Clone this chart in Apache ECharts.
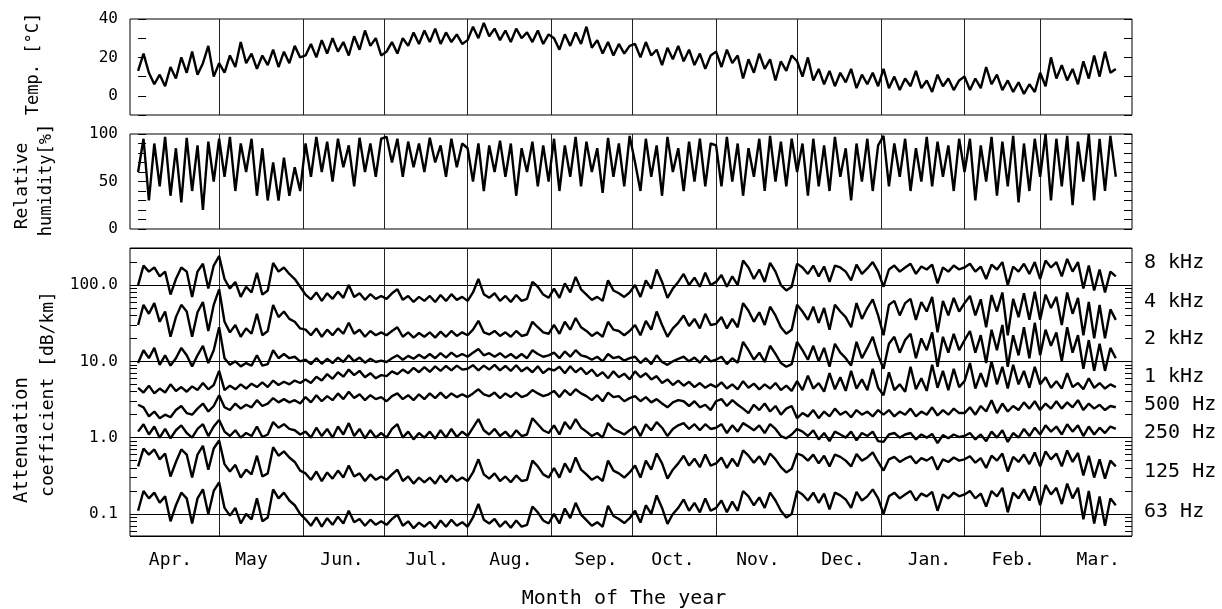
<!DOCTYPE html>
<html>
<head>
<meta charset="utf-8">
<script src="https://cdn.jsdelivr.net/npm/echarts@6/dist/echarts.min.js"></script>
<style>
html, body { margin: 0; padding: 0; background: #fff; }
#main { width: 1222px; height: 609px; }
</style>
</head>
<body>
<div id="main"></div>
<script>
// one reading every 2 days, day 0 = 1 Apr
const dayStep = 2;
const monthNames = ['Apr.', 'May', 'Jun.', 'Jul.', 'Aug.', 'Sep.', 'Oct.', 'Nov.', 'Dec.', 'Jan.', 'Feb.', 'Mar.'];
const monthStarts = [30, 61, 91, 122, 153, 183, 214, 244, 275, 306, 334];
const monthLabelDays = [12, 42, 75.5, 107, 138, 169.5, 198, 229.5, 261, 293, 324, 355.5];
const tempTicks = [0, 20, 40];
const humidTicks = [0, 50, 100];
const attenTicks = [0.1, 1, 10, 100];
const freqNames = ['8 kHz', '4 kHz', '2 kHz', '1 kHz', '500 Hz', '250 Hz', '125 Hz', '63 Hz'];

const temperature = [
  13, 22, 12, 6, 11, 5, 15, 9, 20, 12, 23, 11, 17, 26, 10,
  17, 12, 21, 15, 28, 17, 22, 14, 21, 16, 24, 15, 23, 17, 26, 20,
  21, 27, 20, 29, 22, 30, 23, 28, 21, 31, 24, 34, 26, 30, 21,
  23, 28, 22, 30, 26, 33, 27, 34, 28, 35, 27, 33, 28, 32, 27,
  29, 36, 30, 38, 31, 35, 29, 34, 28, 35, 30, 33, 28, 34, 27, 32,
  30, 24, 32, 26, 33, 27, 36, 25, 29, 22, 28, 21, 27, 22, 26,
  27, 20, 28, 21, 24, 16, 25, 19, 26, 18, 24, 16, 22, 14, 21,
  23, 15, 24, 17, 21, 9, 19, 12, 22, 14, 19, 8, 18, 13, 21,
  18, 10, 20, 8, 14, 6, 13, 5, 12, 7, 14, 4, 11, 6, 12, 5,
  14, 4, 10, 3, 9, 5, 13, 4, 8, 2, 11, 5, 9, 3, 8,
  10, 3, 9, 4, 15, 6, 11, 3, 8, 2, 7, 1, 6, 2,
  12, 5, 20, 9, 16, 8, 14, 6, 18, 9, 21, 10, 23, 12, 14
];
const humidity = [
  60, 95, 30, 90, 45, 97, 35, 85, 28, 96, 40, 88, 20, 92, 50,
  95, 55, 97, 40, 90, 60, 95, 35, 85, 30, 70, 30, 75, 35, 65, 40,
  90, 55, 97, 60, 92, 50, 95, 65, 88, 45, 96, 60, 90, 55, 95,
  97, 70, 95, 55, 92, 65, 90, 60, 96, 70, 88, 55, 95, 65, 90,
  85, 50, 90, 40, 88, 60, 93, 55, 90, 35, 85, 60, 92, 45, 88, 50,
  95, 40, 88, 55, 97, 45, 92, 60, 85, 38, 96, 55, 90, 45, 98,
  70, 40, 95, 55, 88, 35, 97, 60, 85, 40, 92, 50, 95, 45, 90,
  88, 45, 97, 50, 90, 35, 85, 55, 95, 40, 98, 50, 92, 45, 95,
  60, 90, 35, 95, 45, 88, 40, 97, 55, 85, 30, 90, 50, 95, 40, 88,
  98, 45, 90, 55, 95, 40, 85, 50, 97, 45, 92, 55, 88, 40, 95,
  60, 95, 30, 88, 50, 97, 35, 92, 45, 98, 28, 90, 40, 95,
  55, 100, 30, 95, 45, 98, 25, 92, 50, 100, 30, 95, 40, 98, 55
];

const att8k = [
  100, 180, 150, 170, 130, 150, 75, 120, 170, 150, 70, 150, 190, 90, 180,
  240, 120, 90, 110, 70, 95, 80, 145, 75, 85, 195, 150, 170, 140, 120, 95,
  75, 65, 80, 62, 78, 66, 82, 68, 100, 70, 78, 64, 76, 66, 72,
  66, 78, 88, 64, 72, 60, 70, 62, 72, 60, 74, 62, 76, 64, 70,
  62, 80, 120, 76, 68, 78, 62, 72, 60, 74, 62, 66, 110, 95, 75, 68,
  90, 68, 105, 80, 128, 88, 75, 64, 70, 62, 115, 85, 78, 70, 80,
  100, 70, 115, 90, 160, 110, 68, 90, 110, 140, 100, 125, 95, 145, 100,
  110, 135, 95, 130, 100, 210, 170, 120, 160, 110, 195, 150, 100, 85, 95,
  190, 170, 140, 180, 130, 175, 110, 180, 170, 150, 115, 185, 140, 165, 200, 150,
  95, 160, 180, 150, 170, 190, 140, 175, 160, 185, 105, 170, 150, 180, 160,
  170, 190, 150, 175, 120, 185, 160, 200, 100, 175, 150, 190, 140, 200,
  120, 210, 170, 200, 130, 220, 150, 200, 90, 180, 85, 160, 80, 150, 130
];
const att4k = [
  30, 55, 42, 58, 33, 45, 21, 38, 55, 45, 21, 44, 60, 25, 55,
  88, 33, 24, 30, 21, 27, 23, 42, 22, 25, 55, 38, 45, 36, 33, 27,
  26, 22, 27, 21, 26, 22, 27, 23, 32, 23, 26, 21, 25, 22, 24,
  22, 25, 28, 21, 24, 20.5, 23.5, 21, 24, 20.5, 24.5, 21, 25, 21.5, 24,
  22, 26, 34, 24, 22.5, 25, 21.5, 24, 21, 25, 21.5, 22.5, 33, 28, 24, 23,
  30, 23, 33, 26, 37, 28, 25, 21.5, 24, 21, 33, 26, 25, 22, 25,
  30, 22, 34, 26, 45, 30, 21, 27, 32, 40, 29, 36, 27, 42, 30,
  31, 38, 27, 36, 28, 58, 46, 33, 44, 30, 52, 40, 28, 23, 26,
  55, 45, 35, 52, 32, 50, 26, 55, 45, 38, 28, 58, 36, 50, 65, 40,
  22, 55, 62, 40, 58, 66, 35, 60, 45, 70, 24, 62, 40, 68, 45,
  58, 72, 40, 65, 28, 74, 45, 80, 22, 66, 38, 78, 35, 82,
  35, 75, 50, 70, 30, 80, 42, 68, 22, 60, 20, 55, 20, 48, 35
];
const att2k = [
  9.5, 14, 11, 15, 9, 12, 8.8, 11, 15, 12, 8.6, 12, 16, 9.5, 14,
  28, 11, 9, 10, 8.6, 9.5, 8.8, 12, 8.8, 9.2, 14, 11, 12.5, 11, 11.5, 10,
  10.5, 9.2, 11, 9.3, 10.8, 9.5, 11.2, 9.8, 12, 10, 11.2, 9.6, 10.8, 9.8, 10.2,
  9.8, 11, 12, 10.5, 11.8, 10.8, 12.2, 11, 12.5, 11, 12.8, 11.2, 13, 11.5, 12.5,
  11.5, 13, 14.5, 12, 12.8, 11.5, 12.8, 11.2, 12.5, 11, 12.5, 11, 14, 12.5, 11.5, 12,
  13, 11, 13.5, 11.5, 14, 12, 11.5, 10.5, 11.5, 10, 12.5, 11, 11.5, 10.2, 11,
  11.5, 9.5, 11, 9.2, 12, 9.8, 9, 10, 10.8, 11.5, 10, 11.2, 9.6, 11.8, 10,
  10.5, 11.5, 9.2, 11, 9.6, 18, 14, 10.5, 13, 9.8, 16, 12.5, 9.5, 8.5, 9.2,
  18, 14, 10.5, 16, 10, 15, 8.5, 17, 13, 11, 8.8, 18, 11, 15, 21, 12,
  8, 17, 21, 13, 19, 23, 11, 20, 14, 24, 8.5, 21, 13, 23, 14,
  19, 25, 13, 22, 9.5, 26, 14, 30, 8.5, 22, 12, 28, 11, 32,
  12, 26, 16, 24, 10, 28, 13, 22, 8, 19, 7.5, 17, 7.5, 15, 11
];
const att1k = [
  4.5, 3.9, 4.8, 3.8, 4.4, 3.9, 5.0, 4.1, 4.6, 4.0, 4.7, 4.2, 5.2, 4.3, 4.9,
  7.5, 4.2, 4.8, 4.3, 5.0, 4.4, 5.1, 4.6, 5.3, 4.6, 5.6, 4.9, 5.4, 5.0, 5.6, 5.2,
  5.8, 5.2, 6.3, 5.6, 6.8, 5.9, 7.2, 6.3, 7.8, 6.6, 7.5, 6.2, 7.0, 6.0, 6.6,
  6.4, 7.4, 6.8, 7.8, 7.0, 8.2, 7.2, 8.4, 7.3, 8.6, 7.5, 8.7, 7.6, 8.8, 7.8,
  8.0, 8.9, 7.6, 8.8, 7.8, 9.0, 7.6, 8.7, 7.5, 8.9, 7.4, 8.3, 7.2, 8.6, 7.0, 8.0,
  7.6, 8.5, 7.0, 8.6, 7.2, 8.2, 6.8, 7.8, 6.4, 7.2, 6.0, 7.4, 6.2, 6.9, 5.8,
  7.4, 6.2, 7.0, 5.8, 6.4, 5.2, 5.8, 4.9, 5.6, 4.8, 5.4, 4.6, 5.2, 4.5, 5.0,
  4.6, 5.3, 4.4, 5.0, 4.3, 5.5, 4.5, 5.1, 4.3, 5.0, 4.4, 5.2, 4.2, 4.8, 4.1,
  5.5, 4.2, 6.5, 4.4, 5.2, 4.0, 7.0, 4.3, 6.2, 4.1, 7.5, 4.4, 5.8, 4.2, 8.0, 4.5,
  3.6, 7.2, 4.2, 5.0, 4.0, 8.5, 4.3, 6.0, 4.1, 9.0, 4.5, 7.5, 4.2, 8.0, 4.6,
  5.5, 9.5, 4.4, 7.0, 4.6, 10.0, 5.0, 8.5, 4.4, 9.0, 5.0, 7.5, 4.5, 8.5,
  5.0, 6.2, 4.5, 5.5, 4.4, 7.0, 4.6, 5.2, 4.3, 6.0, 4.5, 5.2, 4.4, 5.0, 4.6
];
const att500 = [
  2.7, 2.5, 1.9, 2.2, 1.8, 2.0, 1.85, 2.3, 2.6, 2.1, 2.0, 2.4, 2.8, 2.2, 2.6,
  3.6, 2.5, 2.3, 2.8, 2.4, 2.7, 2.5, 3.1, 2.6, 2.8, 3.3, 2.9, 3.2, 2.9, 3.1, 2.8,
  3.4, 2.9, 3.6, 3.0, 3.5, 3.1, 3.8, 3.2, 4.0, 3.3, 3.7, 3.1, 3.6, 3.2, 3.4,
  3.0, 3.5, 3.8, 3.2, 3.6, 3.1, 3.7, 3.2, 3.8, 3.3, 3.9, 3.3, 3.8, 3.4, 3.7,
  3.4, 3.8, 4.3, 3.7, 3.5, 3.9, 3.3, 3.8, 3.4, 3.9, 3.4, 3.6, 4.2, 3.8, 3.5, 3.7,
  4.1, 3.4, 4.2, 3.6, 4.3, 3.8, 3.5, 3.1, 3.6, 3.0, 3.9, 3.4, 3.5, 3.0, 3.3,
  3.5, 3.0, 3.4, 2.9, 3.2, 2.8, 2.5, 2.9, 3.1, 3.0, 2.6, 3.0, 2.5, 2.7, 2.3,
  3.0, 3.2, 2.6, 3.1, 2.7, 2.4, 2.1, 2.7, 2.3, 2.8, 2.2, 2.6, 2.0, 2.4, 2.6,
  1.8, 2.1, 1.9, 2.3, 1.8, 2.2, 1.9, 2.4, 2.0, 2.2, 1.85, 2.3, 2.0, 2.2, 1.9, 2.3,
  2.0, 2.3, 1.9, 2.2, 2.0, 2.4, 1.9, 2.2, 2.0, 2.5, 1.95, 2.3, 2.0, 2.4, 2.1,
  2.1, 2.5, 2.0, 2.6, 2.2, 3.1, 2.1, 2.8, 2.2, 2.6, 2.3, 2.9, 2.4, 3.0,
  2.3, 2.8, 2.4, 3.0, 2.4, 2.9, 2.5, 3.1, 2.3, 2.8, 2.4, 2.7, 2.3, 2.6, 2.5
];
const att250 = [
  1.2, 1.5, 1.1, 1.4, 1.0, 1.3, 0.98, 1.25, 1.45, 1.15, 1.0, 1.3, 1.5, 1.05, 1.4,
  1.7, 1.2, 1.05, 1.25, 1.0, 1.15, 1.05, 1.4, 1.02, 1.1, 1.6, 1.35, 1.5, 1.3, 1.25, 1.1,
  1.2, 1.0, 1.35, 1.05, 1.3, 1.0, 1.4, 1.1, 1.55, 1.05, 1.3, 0.98, 1.25, 1.0, 1.15,
  1.0, 1.3, 1.5, 1.0, 1.2, 0.95, 1.15, 1.0, 1.2, 0.97, 1.25, 1.0, 1.3, 1.02, 1.2,
  1.05, 1.35, 1.75, 1.25, 1.1, 1.3, 1.05, 1.2, 1.0, 1.25, 1.05, 1.1, 1.8, 1.5, 1.25, 1.15,
  1.45, 1.1, 1.6, 1.3, 1.75, 1.35, 1.2, 1.05, 1.15, 1.0, 1.55, 1.3, 1.2, 1.1, 1.25,
  1.4, 1.05, 1.5, 1.25, 1.6, 1.35, 1.05, 1.3, 1.45, 1.55, 1.3, 1.5, 1.25, 1.5, 1.3,
  1.35, 1.5, 1.15, 1.45, 1.2, 1.55, 1.4, 1.25, 1.45, 1.15, 1.5, 1.3, 1.05, 0.98, 1.1,
  1.3, 1.2, 1.05, 1.25, 0.95, 1.15, 0.9, 1.2, 1.1, 1.0, 1.2, 0.92, 1.15, 1.05, 1.2, 0.9,
  0.88, 1.1, 1.15, 1.0, 1.1, 1.15, 0.95, 1.1, 1.0, 1.12, 0.85, 1.08, 0.98, 1.1, 1.02,
  1.05, 1.15, 0.95, 1.1, 0.9, 1.2, 1.0, 1.25, 0.88, 1.15, 1.0, 1.3, 1.05, 1.35,
  1.1, 1.45, 1.2, 1.4, 1.1, 1.5, 1.2, 1.45, 1.05, 1.4, 1.1, 1.35, 1.15, 1.4, 1.3
];
const att125 = [
  0.42, 0.72, 0.6, 0.7, 0.52, 0.62, 0.31, 0.48, 0.7, 0.6, 0.3, 0.6, 0.78, 0.38, 0.72,
  0.92, 0.45, 0.36, 0.44, 0.3, 0.38, 0.33, 0.58, 0.31, 0.34, 0.75, 0.58, 0.66, 0.55, 0.48, 0.37,
  0.34, 0.28, 0.36, 0.27, 0.35, 0.29, 0.37, 0.3, 0.43, 0.31, 0.34, 0.27, 0.33, 0.28, 0.31,
  0.28, 0.33, 0.38, 0.27, 0.31, 0.25, 0.3, 0.26, 0.3, 0.25, 0.32, 0.26, 0.32, 0.27, 0.3,
  0.27, 0.35, 0.52, 0.33, 0.29, 0.34, 0.27, 0.31, 0.26, 0.32, 0.27, 0.28, 0.5, 0.42, 0.33, 0.3,
  0.4, 0.3, 0.46, 0.35, 0.55, 0.38, 0.33, 0.28, 0.31, 0.27, 0.5, 0.37, 0.34, 0.3, 0.35,
  0.43, 0.3, 0.5, 0.38, 0.62, 0.46, 0.29, 0.38, 0.46, 0.58, 0.43, 0.53, 0.41, 0.6, 0.43,
  0.46, 0.55, 0.4, 0.53, 0.42, 0.68, 0.58, 0.47, 0.57, 0.44, 0.62, 0.52, 0.41, 0.35, 0.39,
  0.62, 0.58, 0.5, 0.6, 0.46, 0.58, 0.42, 0.6, 0.56, 0.5, 0.42, 0.61, 0.5, 0.55, 0.64, 0.48,
  0.37, 0.52, 0.56, 0.48, 0.53, 0.57, 0.46, 0.54, 0.5, 0.56, 0.38, 0.52, 0.48, 0.55, 0.5,
  0.52, 0.57, 0.47, 0.54, 0.4, 0.58, 0.5, 0.62, 0.36, 0.56, 0.48, 0.6, 0.45, 0.64,
  0.42, 0.66, 0.52, 0.62, 0.42, 0.68, 0.48, 0.63, 0.32, 0.58, 0.3, 0.52, 0.29, 0.5, 0.42
];
const att63 = [
  0.11, 0.2, 0.16, 0.19, 0.14, 0.17, 0.08, 0.13, 0.19, 0.16, 0.075, 0.16, 0.21, 0.1, 0.2,
  0.26, 0.12, 0.095, 0.12, 0.075, 0.1, 0.085, 0.16, 0.08, 0.09, 0.21, 0.16, 0.19, 0.15, 0.13, 0.1,
  0.085, 0.07, 0.09, 0.068, 0.088, 0.072, 0.092, 0.075, 0.11, 0.078, 0.086, 0.07, 0.084, 0.072, 0.08,
  0.072, 0.086, 0.098, 0.07, 0.08, 0.065, 0.077, 0.068, 0.079, 0.065, 0.082, 0.068, 0.084, 0.07, 0.078,
  0.068, 0.09, 0.135, 0.084, 0.075, 0.086, 0.068, 0.08, 0.066, 0.082, 0.068, 0.072, 0.125, 0.105, 0.082, 0.075,
  0.1, 0.075, 0.118, 0.088, 0.14, 0.098, 0.083, 0.07, 0.078, 0.068, 0.128, 0.094, 0.086, 0.076, 0.088,
  0.11, 0.077, 0.13, 0.1, 0.175, 0.12, 0.074, 0.1, 0.12, 0.155, 0.11, 0.14, 0.105, 0.16, 0.11,
  0.12, 0.15, 0.105, 0.145, 0.11, 0.2, 0.17, 0.13, 0.165, 0.12, 0.19, 0.15, 0.11, 0.09, 0.1,
  0.2, 0.18, 0.15, 0.19, 0.14, 0.185, 0.115, 0.19, 0.175, 0.155, 0.12, 0.195, 0.15, 0.17, 0.21, 0.16,
  0.1, 0.17, 0.19, 0.16, 0.18, 0.2, 0.15, 0.185, 0.17, 0.195, 0.11, 0.18, 0.16, 0.19, 0.17,
  0.18, 0.2, 0.16, 0.185, 0.125, 0.2, 0.17, 0.22, 0.105, 0.19, 0.16, 0.21, 0.15, 0.23,
  0.13, 0.24, 0.18, 0.22, 0.135, 0.25, 0.16, 0.22, 0.085, 0.2, 0.075, 0.17, 0.07, 0.16, 0.13
];
const attenSeries = [att8k, att4k, att2k, att1k, att500, att250, att125, att63];

const FONT = '"DejaVu Sans Mono", monospace';
const ATT_MIN = 0.0514, ATT_MAX = 306;

var myChart = echarts.init(document.getElementById('main'));

// minor log ticks 2..9 x 10^n, as positions on a linear log10 helper axis
var minorLogTicks = [];
for (let n = -2; n <= 2; n++) {
  for (let k = 2; k <= 9; k++) {
    let p = Math.log10(k * Math.pow(10, n));
    if (p > Math.log10(ATT_MIN) && p < Math.log10(ATT_MAX)) minorLogTicks.push(p);
  }
}

function toPoints(vals) {
  return vals.map((v, i) => [i * dayStep, v]);
}

function lineSeries(name, vals, xi, yi) {
  return {
    name: name,
    type: 'line',
    xAxisIndex: xi,
    yAxisIndex: yi,
    data: toPoints(vals),
    symbol: 'none',
    silent: true,
    lineStyle: { color: '#000', width: 2.4 }
  };
}

function xAxisFor(gi, withLabels) {
  return {
    type: 'value',
    gridIndex: gi,
    min: -3,
    max: 368,
    axisLine: { show: false },
    axisTick: { show: false, customValues: monthStarts },
    splitLine: { show: true, lineStyle: { color: '#222', width: 1 } },
    axisLabel: withLabels ? {
      show: true,
      customValues: monthLabelDays,
      margin: 15,
      color: '#000',
      fontFamily: FONT,
      fontSize: 18,
      formatter: v => {
        let i = monthLabelDays.indexOf(v);
        return i >= 0 ? monthNames[i] : '';
      }
    } : { show: false }
  };
}

function linearY(gi, pos, min, max, ticks, labels) {
  return {
    type: 'value',
    gridIndex: gi,
    position: pos,
    min: min,
    max: max,
    interval: 10,
    axisLine: { show: false },
    axisTick: { show: true, inside: true, length: 8, lineStyle: { color: '#000' } },
    splitLine: { show: false },
    axisLabel: labels ? {
      margin: 12,
      color: '#000',
      fontFamily: FONT,
      fontSize: 16,
      formatter: v => ticks.indexOf(v) >= 0 ? String(v) : ''
    } : { show: false }
  };
}

function logY(pos, labels) {
  return {
    type: 'log',
    gridIndex: 2,
    position: pos,
    min: ATT_MIN,
    max: ATT_MAX,
    axisLine: { show: false },
    axisTick: { show: true, inside: true, length: 10, lineStyle: { color: '#000' } },
    splitLine: { show: labels, lineStyle: { color: '#000', width: 1 } },
    axisLabel: labels ? {
      margin: 12,
      color: '#000',
      fontFamily: FONT,
      fontSize: 16,
      showMinLabel: false,
      showMaxLabel: false,
      formatter: v => {
        let t = attenTicks.find(a => Math.abs(Math.log10(v / a)) < 1e-6);
        return t ? t.toFixed(1) : '';
      }
    } : { show: false }
  };
}

function minorY(pos) {
  return {
    type: 'value',
    gridIndex: 2,
    position: pos,
    min: Math.log10(ATT_MIN),
    max: Math.log10(ATT_MAX),
    axisLine: { show: false },
    axisTick: { show: true, inside: true, length: 7, customValues: minorLogTicks, lineStyle: { color: '#000' } },
    splitLine: { show: false },
    axisLabel: { show: false }
  };
}

var yAxes = [
  linearY(0, 'left', -10, 40, tempTicks, true),
  linearY(0, 'right', -10, 40, tempTicks, false),
  linearY(1, 'left', 0, 100, humidTicks, true),
  linearY(1, 'right', 0, 100, humidTicks, false),
  logY('left', true),
  logY('right', false),
  minorY('left'),
  minorY('right')
];

var series = [
  lineSeries('Temp.', temperature, 0, 0),
  lineSeries('Relative humidity', humidity, 1, 2)
];
attenSeries.forEach((vals, i) => {
  series.push(lineSeries(freqNames[i], vals, 2, 4));
});

function vText(txt, x, y, size) {
  return {
    type: 'text', x: x, y: y, rotation: Math.PI / 2, silent: true,
    style: { text: txt, font: size + 'px ' + FONT, fill: '#000', align: 'center', verticalAlign: 'middle' }
  };
}
function hText(txt, x, y, size, align) {
  return {
    type: 'text', x: x, y: y, silent: true,
    style: { text: txt, font: size + 'px ' + FONT, fill: '#000', align: align, verticalAlign: 'middle' }
  };
}

var freqY = [263, 302, 339, 377, 405, 433, 472, 512];
var graphics = [
  vText('Temp. [°C]', 34, 64, 17),
  vText('Relative', 22, 186, 18),
  vText('humidity[%]', 47, 180, 17),
  vText('Attenuation', 22, 440, 19),
  vText('coefficient [dB/km]', 48, 394, 18),
  hText('Month of The year', 624, 599, 20, 'center')
];
freqNames.forEach((n, i) => graphics.push(hText(n, 1144, freqY[i], 20, 'left')));

var gridBase = { left: 130, width: 1002, show: true, borderColor: '#000', borderWidth: 1, backgroundColor: 'transparent', containLabel: false, outerBoundsMode: 'none' };

myChart.setOption({
  animation: false,
  backgroundColor: '#fff',
  grid: [
    Object.assign({}, gridBase, { top: 19, height: 96 }),
    Object.assign({}, gridBase, { top: 134, height: 95 }),
    Object.assign({}, gridBase, { top: 248, height: 288 })
  ],
  xAxis: [xAxisFor(0, false), xAxisFor(1, false), xAxisFor(2, true)],
  yAxis: yAxes,
  series: series,
  graphic: graphics
});
</script>
</body>
</html>
